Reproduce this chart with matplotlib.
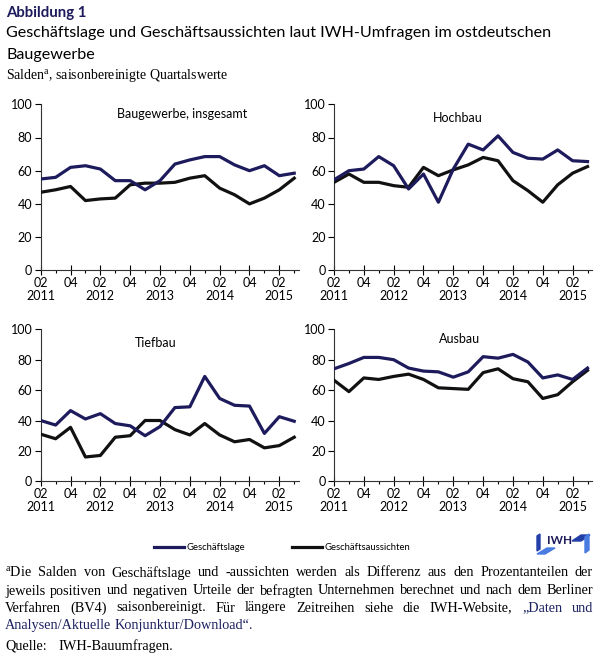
import matplotlib
matplotlib.use("Agg")
import matplotlib.pyplot as plt
from matplotlib.patches import Polygon

# quarterly values Q2 2011 .. Q3 2015
quarter_labels = ["02\n2011", "", "04", "", "02\n2012", "", "04", "", "02\n2013", "",
                  "04", "", "02\n2014", "", "04", "", "02\n2015", ""]

bau_lage = [55, 56, 62, 63, 61, 54, 54, 48.5, 54, 64, 66.5, 68.5, 68.5, 63.5, 60, 63, 57, 58.5]
bau_aussichten = [47, 48.5, 50.5, 42, 43, 43.5, 51.5, 52.5, 52.5, 53, 55.5, 57, 49.5, 45.5, 40, 43.5, 48.5, 55.5]

hoch_lage = [54.5, 60, 61, 68.5, 63, 49, 58, 41, 61, 76, 72.5, 81, 71, 67.5, 67, 72.5, 66, 65.5]
hoch_aussichten = [53, 58, 53, 53, 51, 50, 62, 57, 60.5, 63.5, 68, 66, 54, 48, 41, 51.5, 58.5, 62.5]

tief_lage = [40, 37, 46.5, 41, 44.5, 38, 36.5, 30, 36, 48.5, 49, 69, 54.5, 50, 49.5, 31.5, 42.5, 39.5]
tief_aussichten = [31, 28, 35.5, 16, 17, 29, 30, 40, 40, 34, 30.5, 38, 30.5, 26, 27.5, 22, 23.5, 29]

aus_lage = [74, 77.5, 81.5, 81.5, 80, 74.5, 72.5, 72, 68.5, 72, 82, 81, 83.5, 78.5, 68, 70, 67, 74.5]
aus_aussichten = [66.5, 59, 68, 67, 69, 70.5, 67, 61.5, 61, 60.5, 71.5, 74, 67.5, 65.5, 54.5, 57, 65.5, 73]

NAVY = "#1d1b5c"
BLACK = "#111111"
LINK = "#1c2260"
SANS = "Lato"
SERIF = "Liberation Serif"

W, H = 600, 653
fig = plt.figure(figsize=(W / 100, H / 100), dpi=100)


def fx(x):
    return x / W


def fy(y):
    return 1 - y / H


def panel(rect, title, tx, ty, lage, aussichten):
    ax = fig.add_axes(rect)
    xs = range(len(lage))
    ax.plot(xs, aussichten, color=BLACK, lw=2.3, zorder=3, label="Geschäftsaussichten")
    ax.plot(xs, lage, color=NAVY, lw=2.3, zorder=4, label="Geschäftslage")
    ax.set_xlim(0, 17.3)
    ax.set_ylim(0, 100)
    ax.set_yticks(range(0, 101, 20))
    major = [i for i in xs if quarter_labels[i]]
    ax.set_xticks(major, [quarter_labels[i] for i in major])
    ax.set_xticks([i for i in xs if not quarter_labels[i]], minor=True)
    ax.tick_params(axis="x", which="major", direction="inout", length=7, width=0.8, pad=1.5)
    ax.tick_params(axis="x", which="minor", direction="out", length=2.5, width=0.8)
    ax.tick_params(axis="y", direction="out", length=4, width=0.8, pad=2)
    for lbl in ax.get_xticklabels() + ax.get_yticklabels():
        lbl.set_fontfamily(SANS)
        lbl.set_fontsize(9)
    for lbl in ax.get_xticklabels():
        lbl.set_linespacing(1.05)
    for s in ["top", "right"]:
        ax.spines[s].set_visible(False)
    for s in ["left", "bottom"]:
        ax.spines[s].set_linewidth(0.8)
        ax.spines[s].set_color("#333333")
    ax.patch.set_visible(False)
    ax.text(tx, ty, title, ha="center", va="center", fontsize=9, family=SANS)
    return ax


top_h = 166 / H
bot_h = 152 / H
w = 258 / W
ax1 = panel([fx(40.7), fy(270.3), w, top_h], "Baugewerbe, insgesamt", 9.5, 94, bau_lage, bau_aussichten)
ax2 = panel([fx(334), fy(270.3), w, top_h], "Hochbau", 8.3, 91.7, hoch_lage, hoch_aussichten)
ax3 = panel([fx(40.7), fy(481.3), w, bot_h], "Tiefbau", 7.7, 91.2, tief_lage, tief_aussichten)
ax4 = panel([fx(334), fy(481.3), w, bot_h], "Ausbau", 8.4, 93.4, aus_lage, aus_aussichten)

# header
fig.text(fx(6), fy(13), "Abbildung 1", fontsize=10.8, fontweight="bold", color=NAVY,
         family=SANS, va="center")
fig.text(fx(6), fy(33), "Geschäftslage und Geschäftsaussichten laut IWH-Umfragen im ostdeutschen",
         fontsize=11.65, family=SANS, va="center")
fig.text(fx(6), fy(55), "Baugewerbe", fontsize=11.65, family=SANS, va="center")
fig.text(fx(6), fy(76), r"Salden$^\mathregular{a}$, saisonbereinigte Quartalswerte",
         fontsize=10, family=SERIF, va="center")

# legend
handles, labels = ax1.get_legend_handles_labels()
fig.legend(handles[::-1], labels[::-1], loc="center", bbox_to_anchor=(fx(282), fy(548)),
           ncol=2, frameon=False, prop={"family": SANS, "size": 6.8},
           handlelength=3.2, handletextpad=0.2, columnspacing=5.0)

# logo
fig.text(fx(560), fy(541), "IWH", fontsize=8.5, fontweight="bold", color=NAVY,
         family=SANS, ha="center", va="center")
fig.add_artist(Polygon([(fx(537), fy(536)), (fx(540), fy(534)), (fx(540), fy(549)), (fx(537), fy(551))],
                       closed=True, color="#2340a8", transform=fig.transFigure))
fig.add_artist(Polygon([(fx(537), fy(554)), (fx(547), fy(548)), (fx(555), fy(548)), (fx(545), fy(554))],
                       closed=True, color="#4a7be0", transform=fig.transFigure))
fig.add_artist(Polygon([(fx(572), fy(541)), (fx(581), fy(535)), (fx(590), fy(535)), (fx(581), fy(541))],
                       closed=True, color="#2340a8", transform=fig.transFigure))
fig.add_artist(Polygon([(fx(585), fy(537)), (fx(589), fy(534)), (fx(589), fy(550)), (fx(585), fy(553))],
                       closed=True, color="#4a7be0", transform=fig.transFigure))

# footnote, justified lines
renderer = fig.canvas.get_renderer()
FN_SIZE = 10.3


def justified(words, y, x0=5, x1=593, justify=True):
    texts = []
    for wd in words:
        txt, col = wd if isinstance(wd, tuple) else (wd, "black")
        texts.append(fig.text(0, fy(y), txt, fontsize=FN_SIZE, family=SERIF, color=col, va="center"))
    widths = [t.get_window_extent(renderer).width for t in texts]
    space = 3.2
    if justify and len(texts) > 1:
        space = (x1 - x0 - sum(widths)) / (len(texts) - 1)
    x = x0
    for t, wdt in zip(texts, widths):
        t.set_x(fx(x))
        x += wdt + space


justified([r"$^\mathregular{a}$Die", "Salden", "von", "Geschäftslage", "und", "-aussichten", "werden",
           "als", "Differenz", "aus", "den", "Prozentanteilen", "der"], 573)
justified(["jeweils", "positiven", "und", "negativen", "Urteile", "der", "befragten", "Unternehmen",
           "berechnet", "und", "nach", "dem", "Berliner"], 591)
justified(["Verfahren", "(BV4)", "saisonbereinigt.", "Für", "längere", "Zeitreihen", "siehe", "die",
           "IWH-Website,", ("„Daten", LINK), ("und", LINK)], 608)
justified([("Analysen/Aktuelle", LINK), ("Konjunktur/Download“.", LINK)], 625, justify=False)
fig.text(fx(5), fy(646), "Quelle:", fontsize=FN_SIZE, family=SERIF, va="center")
fig.text(fx(58), fy(646), "IWH-Bauumfragen.", fontsize=FN_SIZE, family=SERIF, va="center")

fig.savefig("out.png", dpi=100)
